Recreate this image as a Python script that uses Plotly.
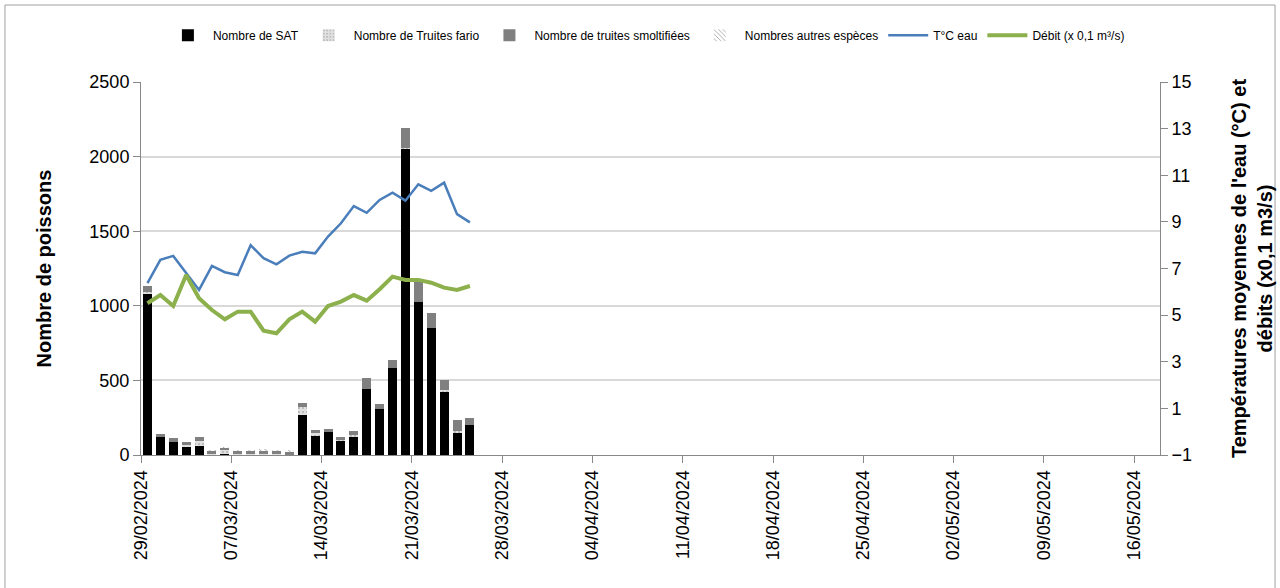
import plotly.graph_objects as go

# daily counts at the trap
dates = ["2024-02-29", "2024-03-01", "2024-03-02", "2024-03-03", "2024-03-04", "2024-03-05",
         "2024-03-06", "2024-03-07", "2024-03-08", "2024-03-09", "2024-03-10", "2024-03-11",
         "2024-03-12", "2024-03-13", "2024-03-14", "2024-03-15", "2024-03-16", "2024-03-17",
         "2024-03-18", "2024-03-19", "2024-03-20", "2024-03-21", "2024-03-22", "2024-03-23",
         "2024-03-24", "2024-03-25"]
sat = [1085, 120, 90, 55, 60, 0, 10, 0, 0, 0, 0, 0, 270, 130, 156, 94, 121, 442, 308, 580,
       2056, 1027, 853, 425, 151, 200]
fario = [10, 0, 0, 12, 35, 5, 25, 5, 5, 8, 5, 2, 50, 15, 0, 7, 10, 0, 0, 0, 5, 0, 0, 8, 10, 0]
smolt = [35, 21, 22, 20, 28, 22, 13, 22, 22, 25, 22, 20, 26, 21, 21, 20, 30, 74, 34, 59,
         133, 134, 101, 70, 76, 50]
autres = [0, 0, 0, 0, 0, 5, 2, 5, 5, 5, 5, 5, 0, 0, 0, 0, 0, 0, 0, 0, 0, 0, 0, 0, 0, 0]
temp = [6.37, 7.37, 7.54, 6.82, 6.08, 7.11, 6.84, 6.72, 8.0, 7.44, 7.18, 7.55, 7.72, 7.65,
        8.37, 8.94, 9.68, 9.39, 9.94, 10.25, 9.91, 10.61, 10.33, 10.68, 9.33, 8.98]
debit = [5.51, 5.86, 5.39, 6.72, 5.72, 5.22, 4.82, 5.15, 5.15, 4.33, 4.22, 4.82, 5.15, 4.72,
         5.39, 5.58, 5.86, 5.62, 6.11, 6.65, 6.51, 6.51, 6.39, 6.18, 6.08, 6.25]

FONT = "Liberation Sans"
DAY = 86400000

fig = go.Figure()
common = dict(x=dates, xperiod=DAY, xperiodalignment="middle", marker_line_width=0)
fig.add_trace(go.Bar(y=sat, name="Nombre de SAT", marker_color="black", **common))
fig.add_trace(go.Bar(y=fario, name="Nombre de Truites fario",
                     marker=dict(color="#d0d0d0", pattern=dict(shape=".", fgcolor="#808080",
                                                               bgcolor="#e0e0e0", size=4)),
                     **common))
fig.add_trace(go.Bar(y=smolt, name="Nombre de truites smoltifiées", marker_color="#808080", **common))
fig.add_trace(go.Bar(y=autres, name="Nombres autres espèces",
                     marker=dict(color="white", pattern=dict(shape="\\", fgcolor="black",
                                                             bgcolor="white", size=4)),
                     **common))
fig.add_trace(go.Scatter(x=dates, y=temp, yaxis="y2", mode="lines", name="T°C eau",
                         xperiod=DAY, xperiodalignment="middle",
                         line=dict(color="#4a7ebb", width=2.5)))
fig.add_trace(go.Scatter(x=dates, y=debit, yaxis="y2", mode="lines", name="Débit (x 0,1 m³/s)",
                         xperiod=DAY, xperiodalignment="middle",
                         line=dict(color="#8cb04c", width=4)))

fig.update_layout(
    width=1280, height=588,
    margin=dict(l=141, r=120, t=82, b=133),
    paper_bgcolor="white", plot_bgcolor="white",
    font=dict(family=FONT, color="black", size=18),
    barmode="stack", bargap=0.3,
    legend=dict(orientation="h", xref="container", x=0.505, xanchor="center",
                yref="container", y=0.94, yanchor="middle",
                font=dict(size=12), itemwidth=40, traceorder="normal"),
    xaxis=dict(type="date", range=["2024-02-29", "2024-05-18"], automargin=False,
               tickvals=["2024-02-29", "2024-03-07", "2024-03-14", "2024-03-21", "2024-03-28",
                         "2024-04-04", "2024-04-11", "2024-04-18", "2024-04-25", "2024-05-02",
                         "2024-05-09", "2024-05-16"],
               tickformat="%d/%m/%Y", tickangle=-90, ticks="outside", ticklen=7,
               tickcolor="#888888", showline=True, linecolor="#888888", linewidth=1,
               showgrid=False, zeroline=False, tickfont=dict(size=18)),
    yaxis=dict(range=[0, 2500], dtick=500, ticks="outside", ticklen=7, tickcolor="#888888",
               showline=True, linecolor="#888888", gridcolor="#d9d9d9", gridwidth=1.5,
               zeroline=False, tickfont=dict(size=18), automargin=False,
               title=dict(text="<b>Nombre de poissons</b>", font=dict(size=20), standoff=32)),
    yaxis2=dict(range=[-1, 15], dtick=2, tick0=-1, overlaying="y", side="right",
                ticks="outside", ticklen=7, tickcolor="#888888", showline=True,
                linecolor="#888888", showgrid=False, zeroline=False, tickfont=dict(size=18),
                automargin=False,
                title=dict(text="<b>Températures moyennes de l'eau (°C) et<br>débits (x0,1 m3/s)</b>",
                           font=dict(size=20), standoff=40)),
    shapes=[dict(type="rect", xref="paper", yref="paper", x0=-0.1335, x1=1.1129,
                 y0=-0.36, y1=1.2064, line=dict(color="#a0a0a0", width=1))],
)

fig.write_html("out.html", config={"displayModeBar": False},
               post_script="document.body.style.margin='0';")
